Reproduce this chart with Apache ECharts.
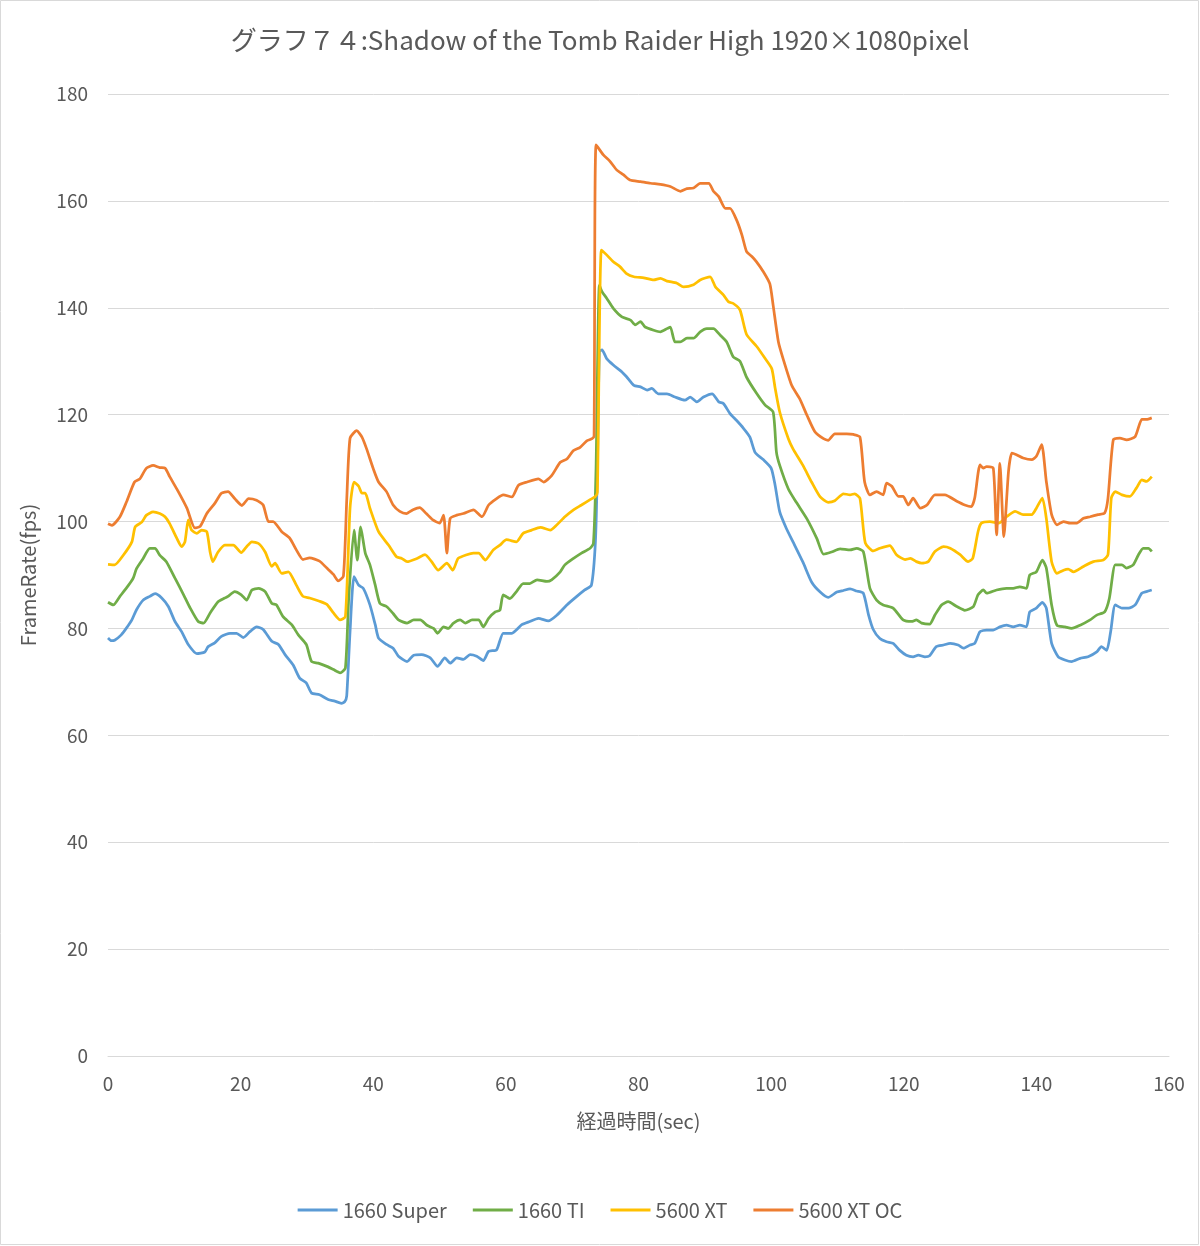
<!DOCTYPE html>
<html>
<head>
<meta charset="utf-8">
<script src="https://cdn.jsdelivr.net/npm/echarts@6/dist/echarts.min.js"></script>
<style>
html,body{margin:0;padding:0;background:#fff;}
#c{width:1200px;height:1246px;}
</style>
</head>
<body>
<div id="c"></div>
<script>
const titleText = 'グラフ７４:Shadow of the Tomb Raider High 1920×1080pixel';
const seriesNames = ['1660 Super', '1660 TI', '5600 XT', '5600 XT OC'];
const xTicks = [0, 20, 40, 60, 80, 100, 120, 140, 160];
const yTicks = [0, 20, 40, 60, 80, 100, 120, 140, 160, 180];

// [time(sec), fps]
const s1660Super = [[0,78.2],[0.5,77.7],[1,77.8],[2,78.8],[2.8,80.1],[3.6,81.6],[4.3,83.5],[5.3,85.3],[6.3,86],[7.1,86.5],[8.1,85.7],[9.1,84.1],[10.1,81.3],[11.1,79.4],[12.1,77],[13.4,75.3],[14.6,75.6],[15.1,76.6],[16.1,77.3],[17.1,78.5],[18.4,79.1],[19.4,79.1],[20.4,78.3],[21.4,79.4],[22.4,80.3],[23.4,79.8],[24.7,77.6],[25.7,77],[26.7,75.1],[27.9,73.2],[28.9,70.7],[29.9,69.8],[30.7,67.9],[31.9,67.6],[33.2,66.7],[34.2,66.4],[35.2,66],[35.7,66.3],[36,67.4],[36.5,79.4],[37.1,89.7],[37.8,88.1],[38.5,87.5],[39.5,84.4],[40.3,80.7],[40.8,78.2],[42,77],[43,76.3],[43.8,74.8],[45.1,73.8],[46.1,75],[47.3,75.1],[48.6,74.5],[49.7,72.9],[50.8,74.5],[51.6,73.5],[52.6,74.5],[53.6,74.2],[54.6,75.1],[55.6,74.8],[56.6,74],[57.4,75.7],[58.6,76],[59.6,79.1],[60.9,79.1],[62.4,80.7],[63.6,81.3],[64.9,81.9],[66.4,81.4],[67.7,82.5],[69.2,84.4],[70.7,86],[71.9,87.2],[72.9,88.1],[73.5,96.2],[73.8,110],[74.1,131.8],[74.5,132.1],[75.2,130.5],[76.2,129.3],[77.5,128],[78.2,127.1],[79.3,125.5],[80.3,125.2],[81.3,124.6],[82,124.9],[83,123.9],[84.3,123.9],[85.5,123.3],[87,122.7],[87.8,123.3],[88.8,122.4],[89.8,123.3],[91.1,123.9],[92.1,122.4],[92.8,122.1],[93.8,120.2],[94.8,118.9],[95.8,117.5],[96.8,115.8],[97.6,112.9],[98.8,111.6],[100,110],[100.6,106.8],[101.3,101.8],[102.3,98.7],[103.3,96.2],[104.8,92.4],[106.1,88.7],[107.4,86.8],[108.6,85.8],[109.9,86.8],[110.9,87.1],[111.9,87.4],[112.9,87],[113.9,86.6],[114.7,82.5],[115.4,79.8],[116.4,78.1],[117.4,77.5],[118.4,77.2],[119.4,75.9],[120.4,75],[121.4,74.7],[122.2,75],[123.2,74.7],[123.9,74.9],[124.9,76.6],[126,76.9],[127,77.2],[128.2,76.9],[129,76.3],[130,76.9],[130.7,77.2],[131.5,79.4],[132.5,79.7],[133.5,79.7],[134.5,80.3],[135.5,80.6],[136.5,80.3],[137.5,80.6],[138.5,80.3],[139,83.1],[140,83.8],[140.9,84.9],[141.5,83.8],[142.3,77.2],[143.3,74.7],[144.3,74.1],[145.3,73.8],[146.6,74.4],[147.8,74.7],[149.1,75.6],[149.8,76.6],[150.6,75.9],[151.2,79.4],[151.9,84.4],[152.9,83.8],[153.9,83.8],[154.9,84.4],[155.9,86.6],[156.6,86.9],[157.4,87.2]];

const s1660Ti = [[0,84.9],[0.8,84.4],[1.8,86],[3.1,88.1],[3.8,89.4],[4.3,91.2],[5.3,93.1],[6.3,95],[7.1,95],[7.8,93.7],[8.8,92.5],[10.1,89.4],[11.4,86.3],[12.4,83.8],[13.6,81.3],[14.4,81],[15.4,82.9],[16.6,85],[17.6,85.7],[18.1,86],[19.1,86.9],[20.1,86.3],[20.9,85.3],[21.7,87.2],[22.7,87.5],[23.7,86.9],[24.7,84.7],[25.4,84.4],[26.4,82.2],[27.7,80.7],[28.7,78.8],[29.9,77],[30.7,73.8],[31.7,73.5],[33,72.9],[34,72.3],[35,71.7],[35.8,72.6],[36.3,85.7],[37.1,98.4],[37.6,92.8],[38.1,99],[38.8,94.1],[39.5,91.9],[40.3,88.1],[41,84.7],[42,84.1],[43,82.8],[43.8,81.6],[45.1,81],[46.1,81.6],[47.1,81.6],[48.1,80.6],[49.1,80],[49.7,79.1],[50.6,80.3],[51.3,80],[52.1,81],[53.1,81.6],[53.9,81],[54.9,81.6],[55.9,81.6],[56.6,80.3],[57.4,81.9],[58.4,83.1],[59.1,83.4],[59.6,86.3],[60.6,85.6],[61.6,86.9],[62.6,88.4],[63.6,88.4],[64.7,89.1],[66.2,88.8],[66.9,89.1],[68.2,90.6],[68.9,91.9],[70.2,93.1],[71.4,94.1],[72.7,95],[73.2,95.9],[73.6,110],[74.1,144.2],[74.5,143],[75.2,141.8],[76.2,139.9],[77.5,138.3],[78.8,137.7],[79.5,136.8],[80.3,137.4],[81,136.4],[82.3,135.8],[83.3,135.5],[84.3,136.1],[84.8,136.4],[85.5,133.6],[86.3,133.6],[87.3,134.3],[88.3,134.3],[89.3,135.5],[90.3,136.1],[91.3,136.1],[92.3,134.9],[93.3,133.6],[94.3,130.8],[95.3,130],[96.3,127],[97.8,124],[99.1,121.8],[100.3,120.5],[100.8,113],[101.3,110.5],[102.6,106.1],[103.8,103.6],[105.4,100.5],[106.9,96.8],[107.9,93.9],[109.1,94.3],[110.4,94.9],[111.9,94.7],[112.9,95],[113.9,94.4],[114.9,87.5],[115.9,85.3],[116.9,84.4],[118.4,83.8],[119.9,81.6],[121.2,81.3],[121.9,81.6],[122.7,81],[123.9,80.8],[124.7,82.5],[125.7,84.4],[126.7,85],[128,84.1],[129.2,83.4],[130.5,84.1],[131.2,86.3],[132,87.2],[132.5,86.6],[134,87.2],[135.5,87.5],[136.5,87.5],[137.5,87.8],[138.5,87.5],[139,90],[140,90.6],[140.9,92.8],[141.5,91.3],[142.3,84.4],[143.1,80.6],[144.3,80.3],[145.3,80],[146.6,80.6],[148.1,81.6],[149.1,82.5],[150.3,83.1],[151,85.6],[151.9,91.9],[152.9,91.9],[153.6,91.3],[154.6,91.9],[155.4,93.8],[156.1,95],[156.9,95],[157.4,94.4]];

const s5600Xt = [[0,92],[1,91.9],[2.3,93.7],[3.6,96.2],[4.1,99],[5.1,99.9],[5.8,101.2],[6.8,101.8],[7.8,101.5],[8.6,100.9],[9.3,99.6],[10.4,96.8],[11.1,95.3],[11.6,96.2],[12.1,100.3],[12.6,98.4],[13.4,97.8],[14.1,98.4],[14.9,98.1],[15.4,94.3],[15.8,92.5],[16.6,94.3],[17.6,95.6],[18.9,95.6],[20.1,94.2],[20.9,95.3],[21.7,96.2],[22.7,95.9],[23.7,94.3],[24.7,91.6],[25.2,92.2],[26.2,90.3],[27.2,90.6],[28.4,88.1],[29.4,86],[30.4,85.7],[31.9,85.1],[33,84.5],[34,82.9],[35,81.6],[35.8,82.2],[36.5,102.5],[37.1,107.4],[37.8,106.6],[38.3,105.3],[38.8,105.3],[39.5,102.5],[40.8,98.1],[42.3,95.6],[43.5,93.4],[44.3,93.1],[45.1,92.5],[46.6,93.1],[47.8,93.8],[48.8,92.5],[49.8,90.9],[51.1,92.2],[52,90.9],[52.8,93.1],[54.1,93.8],[55.1,94.1],[55.9,94.1],[56.9,92.8],[58.1,94.7],[59.1,95.6],[60.1,96.6],[61.6,96.2],[62.6,97.8],[63.9,98.4],[65.2,98.9],[66.7,98.4],[67.7,99.4],[68.9,100.9],[70.2,102.2],[71.4,103.1],[72.7,104.1],[73.5,104.7],[73.8,105.5],[74.4,150.8],[75.2,149.9],[76.2,148.6],[77.2,147.7],[78.2,146.4],[79.3,145.8],[80.8,145.6],[82.3,145.2],[83.3,145.5],[84.3,145],[85.8,144.6],[86.8,143.9],[88.3,144.3],[89.3,145.2],[90.8,145.8],[91.6,143.9],[92.8,142.4],[93.6,141.1],[94.3,140.8],[95.3,139.6],[96.3,135],[97.8,132.8],[99.1,130.5],[100.1,128.6],[100.6,125],[101.3,120.5],[102.6,115.5],[103.3,113.6],[104.8,110.5],[106.1,107.4],[107.4,104.6],[108.6,103.6],[109.6,103.9],[110.9,105.2],[111.9,105],[112.6,105.2],[113.4,104.3],[114.2,96],[115.4,94.5],[116.4,95],[117.9,95.5],[118.9,93.8],[120.2,92.9],[121,93.1],[121.9,92.5],[122.7,92.2],[123.7,92.5],[124.7,94.4],[126,95.3],[127,95],[128.5,93.8],[129.7,92.5],[130.4,93.1],[131.2,98.1],[131.7,99.7],[133,100],[134.3,99.7],[135.5,100.9],[136.8,101.9],[138,101.3],[139.3,101.3],[140,102.5],[140.9,104.4],[141.5,100.6],[142.3,92.5],[143.1,90.3],[144.1,90.9],[144.8,91.1],[145.6,90.6],[147.1,91.6],[148.6,92.5],[150.1,92.8],[150.8,93.8],[151.3,104.4],[151.9,105.6],[152.9,105],[154.1,104.7],[155.1,106.3],[155.9,107.8],[156.6,107.5],[157.4,108.4]];

const s5600XtOc = [[0,99.6],[0.6,99.3],[1.8,100.9],[2.8,103.7],[4,107.4],[4.8,108],[5.8,110],[6.8,110.5],[7.8,110.1],[8.6,110],[9.3,108.4],[10.6,105.6],[11.9,102.5],[13.1,98.8],[13.9,99.1],[14.9,101.5],[16.1,103.4],[17.1,105.3],[18.1,105.6],[19.1,104.3],[20.2,103],[21.2,104.3],[22.4,104],[23.4,103.1],[24.2,100],[24.9,100],[26.2,98.1],[27.4,96.9],[28.4,94.7],[29.4,92.9],[30.4,93.2],[31.9,92.6],[33,91.3],[34,90.1],[34.7,88.9],[35.5,89.8],[36,104],[36.5,115.6],[37.5,117],[38.3,115.8],[39,113.6],[40,109.9],[40.8,107.4],[42,105.6],[43,103.1],[44,101.9],[45,101.5],[46,102.2],[47,102.6],[48,101.5],[49,100.3],[50,99.7],[50.6,101.2],[51.1,94.1],[51.6,100.6],[52.6,101.2],[53.6,101.5],[55.1,102.2],[56.4,100.9],[57.4,103.1],[58.6,104.3],[59.6,105],[60.9,104.6],[61.9,106.8],[63.2,107.4],[64.9,108],[65.7,107.4],[66.9,108.6],[68.2,111.1],[69.2,111.7],[70.2,113.3],[71.2,113.9],[72.2,115.1],[73,115.5],[73.3,116],[73.6,170.5],[74.7,168.6],[75.7,167.4],[76.7,165.8],[77.7,164.9],[78.7,163.9],[80.3,163.6],[81.8,163.3],[83.3,163.1],[84.8,162.7],[86.3,161.8],[87.3,162.3],[88.3,162.4],[89.3,163.3],[90.6,163.3],[91.3,161.8],[92.1,160.8],[93.1,158.6],[93.8,158.6],[94.8,156.4],[95.6,153.6],[96.3,150.5],[97.1,149.6],[97.8,148.6],[98.8,146.8],[99.8,144.5],[100.3,140.5],[101.1,133.6],[101.8,130.5],[103.1,125.5],[104.3,123],[105.4,119.9],[106.6,116.8],[107.9,115.5],[108.6,115.2],[109.6,116.4],[111.4,116.4],[112.4,116.3],[113.4,115.8],[114.1,107.4],[114.9,105],[115.9,105.6],[116.9,105],[117.4,107.2],[118.2,106.6],[119.2,104.7],[119.9,104.7],[120.7,103.1],[121.4,104.4],[122.5,102.5],[123.5,103.1],[124.7,105],[126.2,105],[128,103.8],[129.2,103.1],[130.2,102.8],[130.7,104.4],[131.5,110.6],[132,110],[132.5,110.3],[133.5,110],[134,97.5],[134.5,110.9],[135.1,97.2],[135.8,109.4],[136.3,112.8],[137,112.5],[138,111.9],[139.3,111.6],[140,112.2],[140.8,114.4],[141.5,107.5],[142.3,101.3],[143.1,99.4],[144.1,100],[145.1,99.7],[146.1,99.7],[147.1,100.6],[148.1,100.9],[149.3,101.3],[150.3,101.6],[150.8,104.4],[151.6,115.3],[152.6,115.6],[153.6,115.3],[154.9,115.9],[155.9,119.1],[156.6,119.1],[157.4,119.4]];

const seriesData = [s1660Super, s1660Ti, s5600Xt, s5600XtOc];
const colors = ['#5B9BD5', '#70AD47', '#FFC000', '#ED7D31'];
const FONT = '"Noto Sans CJK JP", "Noto Sans", sans-serif';
const TXT = '#595959';

const chart = echarts.init(document.getElementById('c'), null, {renderer: 'canvas'});
chart.setOption({
  animation: false,
  backgroundColor: '#fff',
  color: colors,
  title: {
    text: titleText,
    left: 'center',
    top: 22,
    textStyle: {fontFamily: FONT, fontSize: 26, fontWeight: 'normal', color: TXT}
  },
  graphic: [{
    type: 'rect',
    shape: {x: 0.5, y: 0.5, width: 1198, height: 1244},
    style: {fill: 'none', stroke: '#D9D9D9', lineWidth: 1},
    silent: true
  }],
  legend: {
    bottom: 21,
    left: 'center',
    itemWidth: 40,
    itemHeight: 3,
    itemGap: 26,
    icon: 'rect',
    textStyle: {fontFamily: FONT, fontSize: 20, color: TXT},
    data: seriesNames
  },
  grid: {left: 108, right: 31, top: 94, bottom: 190, containLabel: false},
  xAxis: {
    type: 'value',
    min: xTicks[0],
    max: xTicks[xTicks.length - 1],
    interval: 20,
    name: '経過時間(sec)',
    nameLocation: 'middle',
    nameGap: 55,
    nameTextStyle: {fontFamily: FONT, fontSize: 20, color: TXT},
    axisLine: {show: true, lineStyle: {color: '#D9D9D9', width: 1}},
    axisTick: {show: false},
    splitLine: {show: false},
    axisLabel: {fontFamily: FONT, fontSize: 19, color: TXT, margin: 18}
  },
  yAxis: {
    type: 'value',
    min: yTicks[0],
    max: yTicks[yTicks.length - 1],
    interval: 20,
    name: 'FrameRate(fps)',
    nameLocation: 'middle',
    nameGap: 70,
    nameTextStyle: {fontFamily: FONT, fontSize: 20, color: TXT},
    axisLine: {show: false},
    axisTick: {show: false},
    splitLine: {lineStyle: {color: '#D9D9D9', width: 1}},
    axisLabel: {fontFamily: FONT, fontSize: 19, color: TXT, margin: 20}
  },
  series: seriesNames.map((n, i) => ({
    name: n,
    type: 'line',
    data: seriesData[i],
    showSymbol: false,
    symbol: 'none',
    smooth: 0.2,
    lineStyle: {width: 2.75, color: colors[i]},
    itemStyle: {color: colors[i]}
  }))
});
</script>
</body>
</html>
